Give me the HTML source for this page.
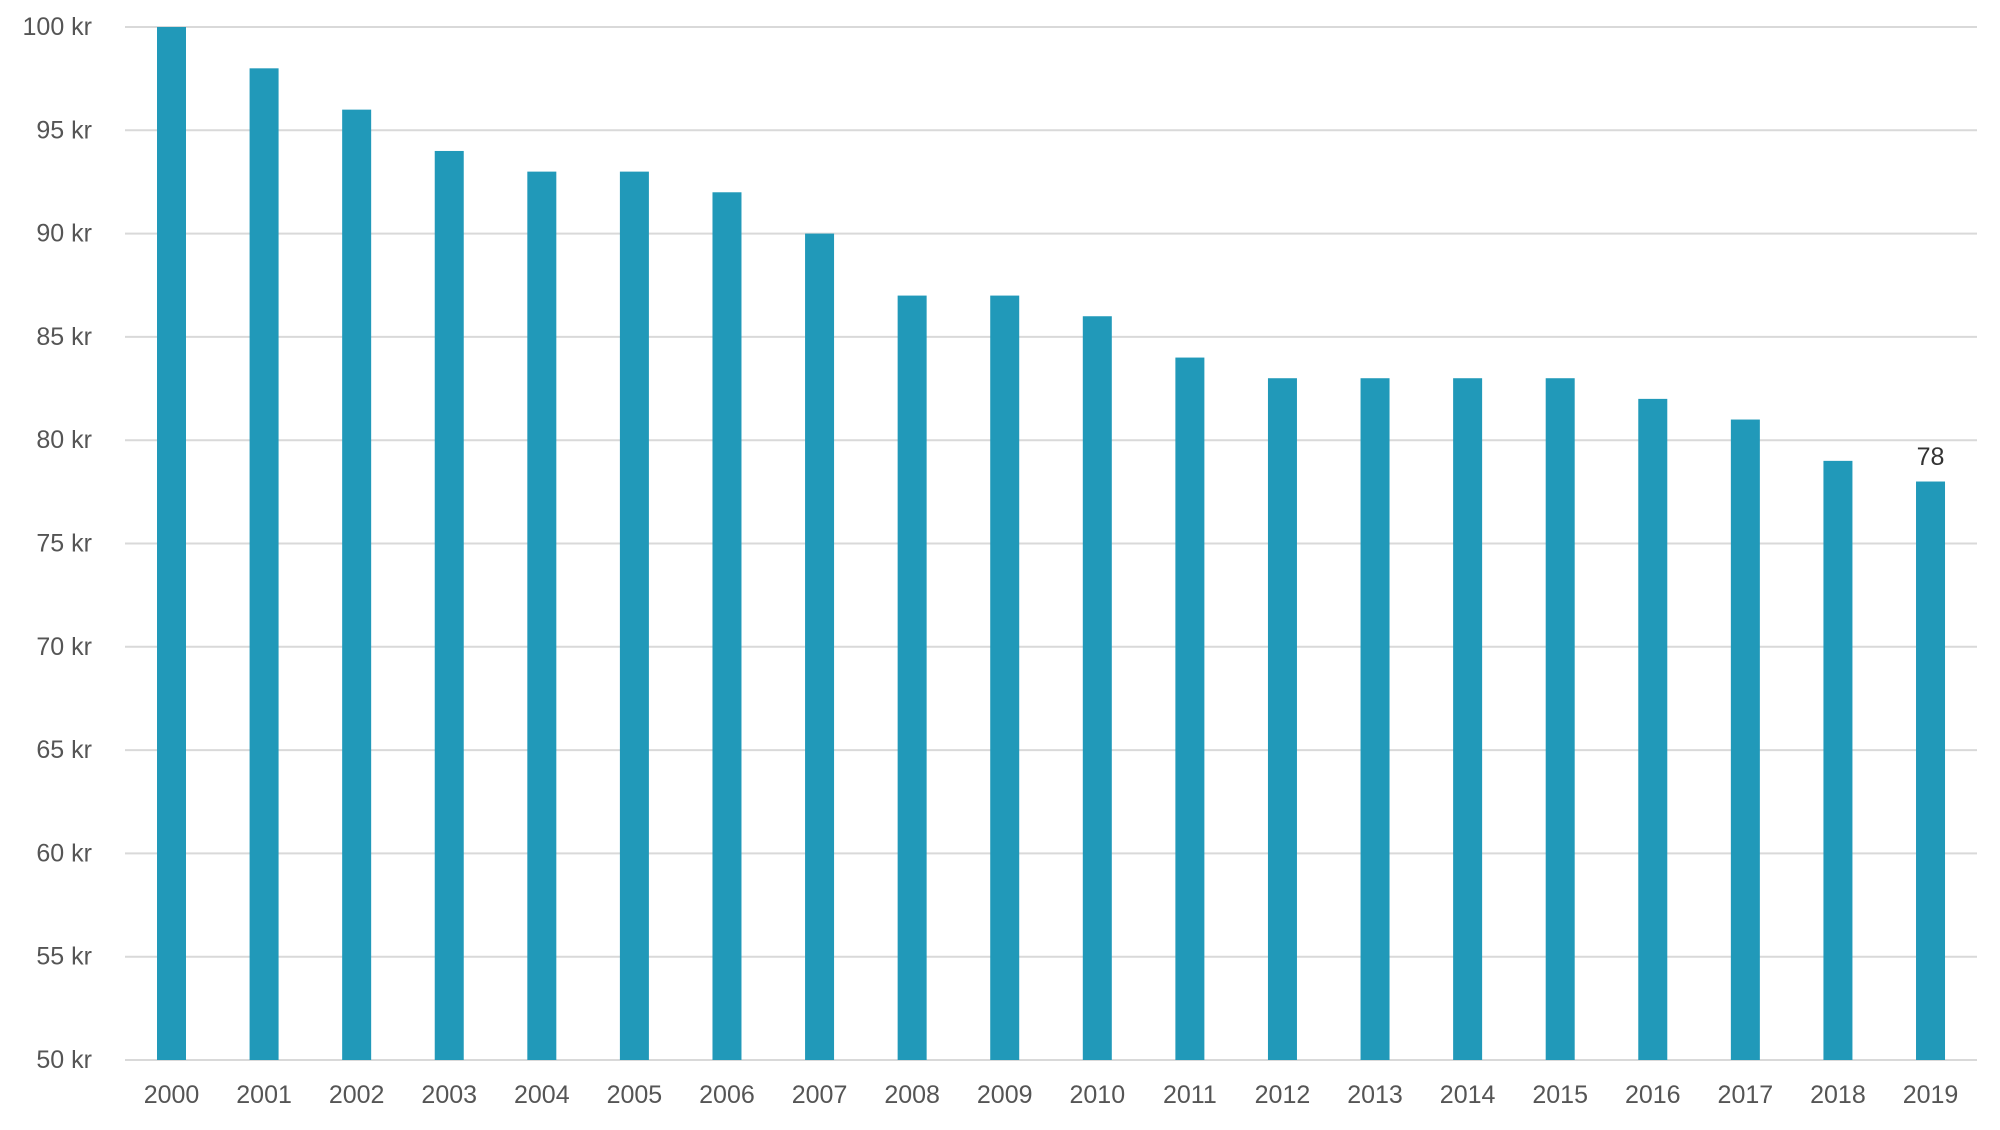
<!DOCTYPE html>
<html><head><style>
html,body{margin:0;padding:0;background:#fff;}
svg text{font-family:"Liberation Sans",sans-serif;font-size:25px;fill:#555;}
</style></head><body>
<svg width="2000" height="1125" viewBox="0 0 2000 1125" xmlns="http://www.w3.org/2000/svg">
<g id="g"></g>
</svg>
<script>
const g=document.getElementById('g');
const ns='http://www.w3.org/2000/svg';
function el(t,a,txt){const e=document.createElementNS(ns,t);for(const k in a)e.setAttribute(k,a[k]);if(txt!=null)e.textContent=txt;g.appendChild(e);return e;}
const y0=27,y1=1060;const yv=v=>y0+(100-v)*(y1-y0)/50;
for(let v=50;v<=100;v+=5){const y=yv(v);el('line',{x1:125,x2:1977,y1:y,y2:y,stroke:'#d9d9d9','stroke-width':2});
el('text',{x:92,y:y+8,'text-anchor':'end'},v+' kr');}
const d=[100,98,96,94,93,93,92,90,87,87,86,84,83,83,83,83,82,81,79,78];
d.forEach((v,i)=>{const cx=171.5+i*92.58;const t=yv(v);
el('rect',{x:cx-14.5,y:t,width:29,height:y1-t,fill:'#2199b9'});
el('text',{x:cx,y:1103,'text-anchor':'middle'},String(2000+i));});
el('text',{x:1930.5,y:465,'text-anchor':'middle',style:'fill:#333'},'78');
</script>
</body></html>
